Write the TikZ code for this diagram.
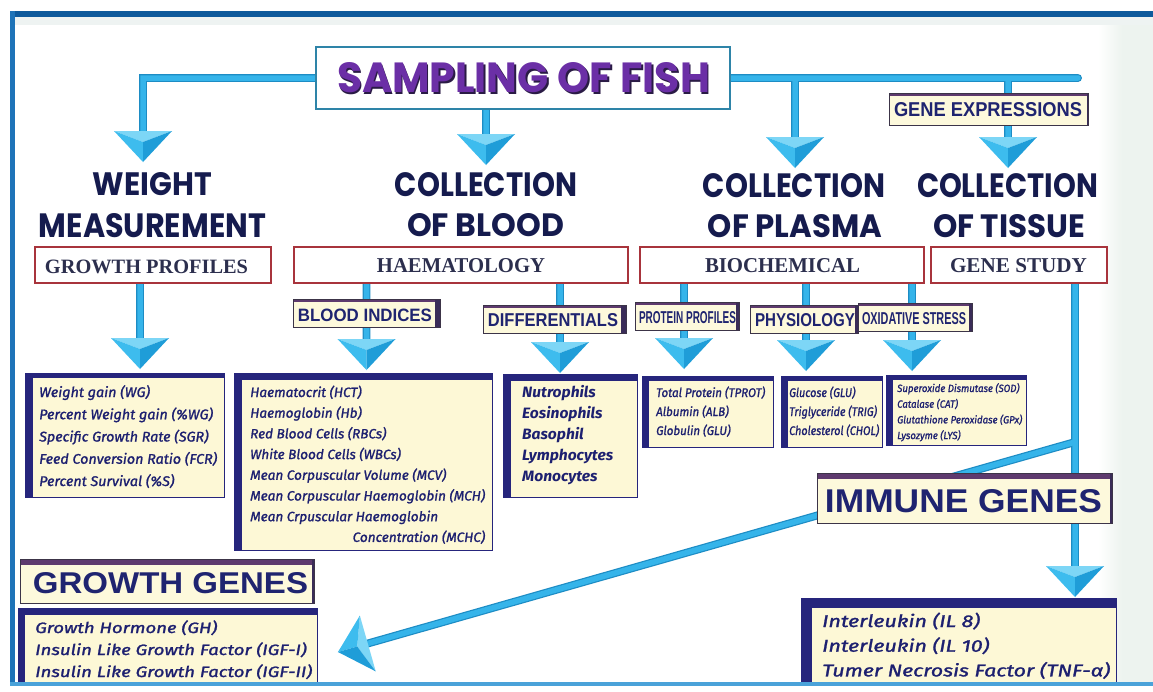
\documentclass[tikz,border=0pt]{standalone}
\usepackage{graphicx}
\usepackage{fontspec}
\setmainfont{Liberation Sans}
\newfontfamily\popfont{Poppins}
\newfontfamily\serfont{Liberation Serif}
\newfontfamily\lstfont{Fira Sans}[FakeBold=1.3]
\newfontfamily\lstfontb{Fira Sans}
\usetikzlibrary{fit,calc}
\newcommand\fitto[3]{\resizebox{#1pt}{#2pt}{#3}}
\newcommand\wfit[2]{\resizebox{#1pt}{\height}{#2}}
\definecolor{headcol}{HTML}{151B4E}
\definecolor{titlepurple}{HTML}{6B2FA6}
\definecolor{titleshadow}{HTML}{2A1B45}
\definecolor{titleline}{HTML}{2E84A8}
\definecolor{redline}{HTML}{A8343C}
\definecolor{sercol}{HTML}{2C2F4E}
\definecolor{tagfill}{HTML}{FDF9DC}
\definecolor{tagline}{HTML}{3C3448}
\definecolor{tagtopc}{HTML}{5E3A6E}
\definecolor{tagside}{HTML}{3A2C58}
\definecolor{tagtxt}{HTML}{1F2470}
\definecolor{listfill}{HTML}{FDF8D6}
\definecolor{listband}{HTML}{26257C}
\definecolor{lsttxt}{HTML}{1D2070}
\definecolor{pipefill}{HTML}{35B4EA}
\definecolor{pipeedge}{HTML}{1D8CC4}
\definecolor{pyrtop}{HTML}{7DD6F6}
\definecolor{pyrleft}{HTML}{3DBCEE}
\definecolor{pyrright}{HTML}{1F9DD8}
\definecolor{frametop}{HTML}{0E5A9C}
\definecolor{frameleft}{HTML}{1E73B8}
\definecolor{framebot}{HTML}{4AA2D9}
\definecolor{stripc}{HTML}{EEF3F2}
\definecolor{sidegrey}{HTML}{EDF3EF}
\pgfdeclarelayer{bg}
\pgfdeclarelayer{background}
\pgfdeclarelayer{fg}
\pgfsetlayers{bg,background,main,fg}
\begin{document}
\begin{tikzpicture}[x=1pt,y=-1pt,
  box/.style={inner sep=0pt, outer sep=0pt},
  redbox/.style={box, draw=redline, line width=1.3pt, fill=white},
  redtext/.style={inner sep=0pt, text=sercol, font=\serfont\bfseries},
  tag/.style n args={2}{box, draw=tagline, line width=0.8pt, fill=tagfill,
    path picture={
      \fill[tagtopc] (path picture bounding box.north west) rectangle ([yshift=-#1pt]path picture bounding box.north east);
      \fill[tagside] ([xshift=-#2pt]path picture bounding box.north east) rectangle (path picture bounding box.south east);}},
  listbox/.style n args={2}{box, draw=listband, line width=0.9pt, fill=listfill,
    path picture={
      \fill[listband] (path picture bounding box.north west) rectangle ([xshift=#1pt]path picture bounding box.south west);
      \fill[listband] (path picture bounding box.north west) rectangle ([yshift=-#2pt]path picture bounding box.north east);}},
  tagtext/.style={inner sep=0pt, text=tagtxt, font=\bfseries},
  head/.style={inner sep=0pt, anchor=base, text=headcol, font=\popfont\bfseries},
  listtxt/.style={inner sep=0pt, anchor=base west, text=lsttxt},
  pipe/.style={draw=pipeedge, line width=1.2pt, double=pipefill, double distance=5.5pt, line cap=round},
  pyr/.pic={
    \fill[pyrtop] (-29,0) -- (29,0) -- (0,11) -- cycle;
    \fill[pyrleft] (-29,0) -- (0,11) -- (0,31) -- cycle;
    \fill[pyrright] (29,0) -- (0,11) -- (0,31) -- cycle;
  }
]
\useasboundingbox (0,0) rectangle (1153,691);
\begin{pgfonlayer}{bg}
  \fill[white] (0,0) rectangle (1153,691);
  \fill[stripc] (14,17) rectangle (1153,25);
  \shade[left color=white, right color=sidegrey] (1098,25) rectangle (1122,682);
  \fill[sidegrey] (1122,25) rectangle (1153,682);
\end{pgfonlayer}

% title
\node[box, draw=titleline, line width=1.6pt, fill=white, fit={(316,47) (730,109)}] (title) {};
\node[inner sep=0pt, text=titleshadow, font=\popfont\bfseries] (titleshade) at (525.2,79.8) {\fitto{373}{30}{SAMPLING OF FISH}};
\node[inner sep=0pt, text=titlepurple, font=\popfont\bfseries] (titletext) at (523.5,78) {\fitto{373}{30}{SAMPLING OF FISH}};

% headings
\node[head] (h1a) at (152.5,195) {\fitto{119}{23}{WEIGHT}};
\node[head] (h1b) at (152.5,237) {\fitto{227}{24}{MEASUREMENT}};
\node[head] (h2a) at (486,196) {\fitto{182}{24}{COLLECTION}};
\node[head] (h2b) at (485.5,236) {\fitto{157}{23}{OF BLOOD}};
\node[head] (h3a) at (794,197) {\fitto{182}{24}{COLLECTION}};
\node[head] (h3b) at (795,237) {\fitto{174}{23}{OF PLASMA}};
\node[head] (h4a) at (1007.5,197) {\fitto{181}{24}{COLLECTION}};
\node[head] (h4b) at (1009,237) {\fitto{152}{23}{OF TISSUE}};

% red boxes
\node[redbox, fit={(35,247) (271,283)}] (gp) {};
\node[redtext] (gpt) at (146.5,266.5) {\fitto{203}{13.5}{GROWTH PROFILES}};
\node[redbox, fit={(294,247) (628,283)}] (haem) {};
\node[redtext] (haemt) at (461,266) {\fitto{168}{14}{HAEMATOLOGY}};
\node[redbox, fit={(640,247) (924,283)}] (bio) {};
\node[redtext] (biot) at (782.5,266) {\fitto{155}{14}{BIOCHEMICAL}};
\node[redbox, fit={(931,247) (1107,283)}] (gs) {};
\node[redtext] (gst) at (1018.5,266) {\fitto{137}{14}{GENE STUDY}};

% tags
\node[tag={3}{1.5}, fit={(889,93) (1088,125)}] (ge) {};
\node[tagtext] (get) at (988,109.5) {\fitto{188}{14}{GENE EXPRESSIONS}};
\node[tag={3}{5}, fit={(293,299) (440,327)}] (bi) {};
\node[tagtext] (bit) at (365,315) {\fitto{134}{12.5}{BLOOD INDICES}};
\node[tag={3}{5}, fit={(483,305) (626,333)}] (df) {};
\node[tagtext] (dft) at (553,320.5) {\fitto{130}{13}{DIFFERENTIALS}};
\node[tag={3}{3}, fit={(635,302) (739,330)}] (pp) {};
\node[tagtext] (ppt) at (687.5,318) {\fitto{97}{12}{PROTEIN PROFILES}};
\node[tag={3}{3}, fit={(750,305) (858,333)}] (ph) {};
\node[tagtext] (pht) at (805,320.5) {\fitto{100}{13}{PHYSIOLOGY}};
\node[tag={3}{3}, fit={(858,303) (972,331)}] (ox) {};
\node[tagtext] (oxt) at (914,318.5) {\fitto{104}{12}{OXIDATIVE STRESS}};
\node[tag={6}{2}, fit={(817,473) (1112,523)}] (ig) {};
\node[tagtext] (igt) at (963.5,501.5) {\fitto{277}{23}{IMMUNE GENES}};
\node[tag={6}{2}, fit={(20,559) (314,603)}] (gg) {};
\node[tagtext] (ggt) at (170.5,583.5) {\fitto{275}{21}{GROWTH GENES}};

% list boxes
\node[listbox={8}{5}, fit={(25,373) (224,497)}] (l1) {};
\node[listbox={8}{7}, fit={(234,373) (492,550)}] (l2) {};
\node[listbox={8}{7}, fit={(503,374) (637,497)}] (l3) {};
\node[listbox={7}{5}, fit={(642,376) (773,447)}] (l4) {};
\node[listbox={7}{5}, fit={(781,376) (882,447)}] (l5) {};
\node[listbox={7}{5}, fit={(886,375) (1026,445)}] (l6) {};
\node[listbox={11}{10}, fit={(801,598) (1116,684)}] (l7) {};
\node[listbox={7}{7}, fit={(18,608) (317,684)}] (l8) {};

% list texts
\node[listtxt, font=\lstfont\itshape\fontsize{14}{22.25}\selectfont] (t1) at (39,397)
  {\wfit{178}{\begin{tabular}[t]{@{}l@{}}Weight gain (WG)\\Percent Weight gain (\%WG)\\Specific Growth Rate (SGR)\\Feed Conversion Ratio (FCR)\\Percent Survival (\%S)\end{tabular}}};
\node[listtxt, font=\lstfont\itshape\fontsize{13.5}{20.7}\selectfont] (t2) at (250,397)
  {\wfit{235}{\begin{tabular}[t]{@{}l@{}}Haematocrit (HCT)\\Haemoglobin (Hb)\\Red Blood Cells (RBCs)\\White Blood Cells (WBCs)\\Mean Corpuscular Volume (MCV)\\Mean Corpuscular Haemoglobin (MCH)\\Mean Crpuscular Haemoglobin\\\multicolumn{1}{@{}r@{}}{Concentration (MCHC)}\end{tabular}}};
\node[listtxt, font=\lstfontb\bfseries\itshape\fontsize{15}{21}\selectfont] (t3) at (522,397)
  {\wfit{91}{\begin{tabular}[t]{@{}l@{}}Nutrophils\\Eosinophils\\Basophil\\Lymphocytes\\Monocytes\end{tabular}}};
\node[listtxt, font=\lstfont\itshape\fontsize{12.5}{19}\selectfont] (t4) at (656,397)
  {\wfit{109}{\begin{tabular}[t]{@{}l@{}}Total Protein (TPROT)\\Albumin (ALB)\\Globulin (GLU)\end{tabular}}};
\node[listtxt, font=\lstfont\itshape\fontsize{12.5}{19}\selectfont] (t5) at (789,397)
  {\wfit{90}{\begin{tabular}[t]{@{}l@{}}Glucose (GLU)\\Triglyceride (TRIG)\\Cholesterol (CHOL)\end{tabular}}};
\node[listtxt, font=\lstfont\itshape\fontsize{10.5}{15.7}\selectfont] (t6) at (897,392)
  {\wfit{125}{\begin{tabular}[t]{@{}l@{}}Superoxide Dismutase (SOD)\\Catalase (CAT)\\Glutathione Peroxidase (GPx)\\Lysozyme (LYS)\end{tabular}}};
\node[listtxt, font=\lstfont\itshape\fontsize{17}{24.7}\selectfont] (t7) at (822,627)
  {\wfit{288}{\begin{tabular}[t]{@{}l@{}}Interleukin (IL 8)\\Interleukin (IL 10)\\Tumer Necrosis Factor (TNF-α)\end{tabular}}};
\node[listtxt, font=\lstfont\itshape\fontsize{15}{22}\selectfont] (t8) at (35,633)
  {\wfit{277}{\begin{tabular}[t]{@{}l@{}}Growth Hormone (GH)\\Insulin Like Growth Factor (IGF-I)\\Insulin Like Growth Factor (IGF-II)\end{tabular}}};

% arrow anchor points
\coordinate (a1) at (143,131);
\coordinate (a2) at (486,134);
\coordinate (a3) at (795,137);
\coordinate (a4) at (1008,137);
\coordinate (a5) at (140,338);
\coordinate (a6) at (366.5,339);
\coordinate (a7) at (560,342);
\coordinate (a8) at (684,338);
\coordinate (a9) at (806,340);
\coordinate (a10) at (912,340);
\coordinate (a11) at (1075,566);
\coordinate (a12) at (367.8,643.5);
\coordinate (split) at (1075,442);
\coordinate (hend) at (1078,78);

\begin{pgfonlayer}{background}
\draw[pipe] (title.west) -| (a1)
  (title.south -| a2) -- (a2)
  (title.east) -- (hend)
  (title.east -| a3) -- (a3)
  (title.east -| a4) -- (a4)
  (gp.south -| a5) -- (a5)
  (haem.south -| a6) -- (a6)
  (haem.south -| a7) -- (a7)
  (bio.south -| a8) -- (a8)
  (bio.south -| a9) -- (a9)
  (bio.south -| a10) -- (a10)
  (gs.south -| a11) -- (a11)
  (split) -- (a12);
\end{pgfonlayer}

\foreach \p in {a1,a2,a3,a4,a5,a6,a7,a8,a9,a10,a11} {\pic at (\p) {pyr};}
\pic[rotate=-74.1] at (a12) {pyr};

\begin{pgfonlayer}{fg}
  \fill[frametop] (10,11) rectangle (1153,17);
  \fill[frameleft] (10,11) rectangle (14.5,686);
  \fill[framebot] (10,682) rectangle (1153,686);
\end{pgfonlayer}
\end{tikzpicture}
\end{document}
